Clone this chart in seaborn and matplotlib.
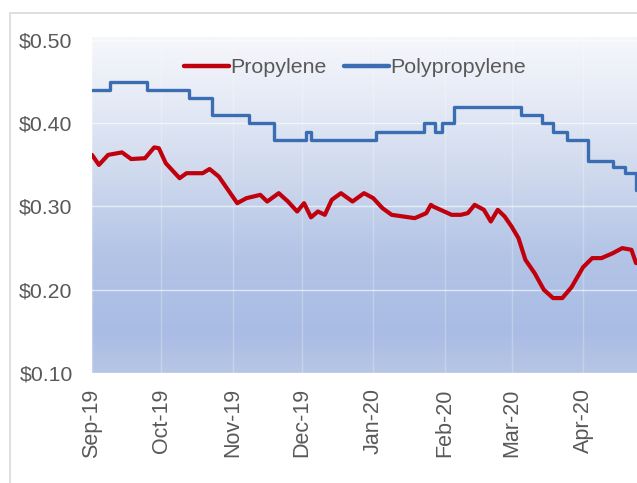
import numpy as np
import pandas as pd
import matplotlib
matplotlib.use("Agg")
import matplotlib.pyplot as plt
import matplotlib.dates as mdates
from matplotlib.patches import Rectangle
from matplotlib.colors import LinearSegmentedColormap
from matplotlib.ticker import FuncFormatter
import seaborn as sns

# Propylene spot price ($/lb)
propylene_dates = [
    "2019-09-01", "2019-09-04", "2019-09-08", "2019-09-14", "2019-09-18", "2019-09-24",
    "2019-09-28", "2019-09-30", "2019-10-03", "2019-10-09", "2019-10-12", "2019-10-19",
    "2019-10-22", "2019-10-26", "2019-10-31", "2019-11-03", "2019-11-07", "2019-11-13",
    "2019-11-16", "2019-11-21", "2019-11-25", "2019-11-29", "2019-12-02", "2019-12-05",
    "2019-12-08", "2019-12-11", "2019-12-14", "2019-12-18", "2019-12-23", "2019-12-28",
    "2020-01-01", "2020-01-05", "2020-01-09", "2020-01-14", "2020-01-19", "2020-01-24",
    "2020-01-26", "2020-01-27", "2020-02-04", "2020-02-08", "2020-02-11", "2020-02-14",
    "2020-02-18", "2020-02-21", "2020-02-24", "2020-02-27", "2020-03-01", "2020-03-04",
    "2020-03-07", "2020-03-11", "2020-03-15", "2020-03-19", "2020-03-23", "2020-03-27",
    "2020-04-01", "2020-04-05", "2020-04-09", "2020-04-14", "2020-04-18", "2020-04-22",
    "2020-04-24",
]
propylene_values = [
    0.362, 0.350, 0.362, 0.365, 0.357, 0.358,
    0.371, 0.370, 0.352, 0.334, 0.340, 0.340,
    0.345, 0.336, 0.316, 0.304, 0.310, 0.314,
    0.306, 0.316, 0.306, 0.294, 0.304, 0.287,
    0.294, 0.290, 0.308, 0.316, 0.306, 0.316,
    0.310, 0.298, 0.290, 0.288, 0.286, 0.292,
    0.302, 0.300, 0.290, 0.290, 0.292, 0.302,
    0.296, 0.282, 0.296, 0.288, 0.276, 0.262,
    0.236, 0.220, 0.200, 0.190, 0.190, 0.203,
    0.227, 0.238, 0.238, 0.244, 0.250, 0.248,
    0.232,
]

# Polypropylene contract price ($/lb), changes in steps
polypropylene_dates = [
    "2019-09-01", "2019-09-09", "2019-09-25", "2019-10-13", "2019-10-23", "2019-11-08",
    "2019-11-19", "2019-12-03", "2019-12-05", "2020-01-02", "2020-01-23", "2020-01-28",
    "2020-01-31", "2020-02-05", "2020-03-05", "2020-03-14", "2020-03-19", "2020-03-25",
    "2020-04-03", "2020-04-14", "2020-04-19", "2020-04-24", "2020-04-26",
]
polypropylene_values = [
    0.44, 0.45, 0.44, 0.43, 0.41, 0.40,
    0.38, 0.39, 0.38, 0.39, 0.40, 0.39,
    0.40, 0.42, 0.41, 0.40, 0.39, 0.38,
    0.355, 0.347, 0.34, 0.32, 0.32,
]

month_ticks = ["2019-09-01", "2019-10-01", "2019-11-01", "2019-12-01", "2020-01-01",
               "2020-02-01", "2020-03-01", "2020-04-01"]
price_ticks = [0.10, 0.20, 0.30, 0.40, 0.50]

prop_df = pd.DataFrame({"date": pd.to_datetime(propylene_dates), "price": propylene_values})
poly_df = pd.DataFrame({"date": pd.to_datetime(polypropylene_dates), "price": polypropylene_values})

sns.set_theme(style="white")
plt.rcParams["font.family"] = ["Liberation Sans", "DejaVu Sans"]

fig = plt.figure(figsize=(6.37, 4.83), dpi=100)
fig.patch.set_facecolor("white")
ax = fig.add_axes([92 / 637, 1 - 373 / 483, 545 / 637, 336 / 483])

# light outer frame around the chart
fig.add_artist(Rectangle((10 / 637, -0.05), 1.2, 1 - 13 / 483 + 0.05,
                         transform=fig.transFigure, fill=False,
                         edgecolor="#d9d9d9", linewidth=1.2, zorder=0))

# vertical gradient fill for the plotting area
grad_cmap = LinearSegmentedColormap.from_list(
    "panel",
    [(0.0, "#b7c6e5"), (0.12, "#a9bce4"), (0.35, "#b3c4e6"),
     (0.6, "#d0daee"), (0.85, "#e9edf7"), (1.0, "#f6f7fb")])
grad = np.linspace(0, 1, 256).reshape(-1, 1)
ax.imshow(grad, cmap=grad_cmap, origin="lower", aspect="auto",
          extent=[0, 1, 0, 1], transform=ax.transAxes, zorder=0)

sns.lineplot(data=prop_df, x="date", y="price", ax=ax, color="#c0000c",
             linewidth=3.0, label="Propylene", zorder=3)
sns.lineplot(data=poly_df, x="date", y="price", ax=ax, color="#3b6db2",
             linewidth=2.4, label="Polypropylene", drawstyle="steps-post", zorder=3)

ax.set_xlim(pd.Timestamp("2019-09-01"), pd.Timestamp("2020-04-24 10:00"))
ax.set_ylim(0.10, 0.5036)
ax.set_yticks(price_ticks)
ax.yaxis.set_major_formatter(FuncFormatter(lambda v, _: f"${v:.2f}"))
ax.set_xticks(pd.to_datetime(month_ticks))
ax.xaxis.set_major_formatter(mdates.DateFormatter("%b-%y"))
ax.tick_params(axis="y", labelsize=15.3, colors="#595959", pad=14, length=0)
ax.tick_params(axis="x", labelsize=15.5, colors="#595959", pad=11, length=0, rotation=90)
ax.set_xlabel("")
ax.set_ylabel("")

ax.grid(True, axis="y", color="white", alpha=0.6, linewidth=1.0, zorder=1)
ax.grid(True, axis="x", color="white", alpha=0.25, linewidth=1.0, zorder=1)
for s in ax.spines.values():
    s.set_visible(False)

leg = ax.legend(loc="center", bbox_to_anchor=(0.4826, 0.908), ncol=2, frameon=False,
                fontsize=15.4, handlelength=2.1, handletextpad=0.05, columnspacing=0.85)
for line in leg.get_lines():
    line.set_linewidth(3.2)
for t in leg.get_texts():
    t.set_color("#595959")

fig.savefig("out.png", dpi=100, facecolor="white")
